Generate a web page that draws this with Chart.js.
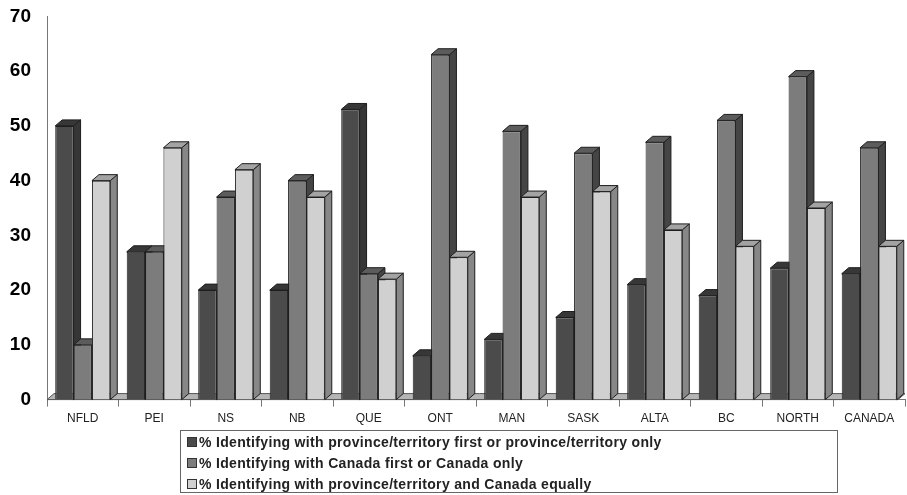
<!DOCTYPE html>
<html>
<head>
<meta charset="utf-8">
<script src="https://cdn.jsdelivr.net/npm/chart.js@4.4.1/dist/chart.umd.min.js"></script>
<style>
  body { margin: 0; background: #fff; font-family: 'Liberation Sans', Arial, sans-serif; }
  #wrap { position: relative; width: 907px; height: 495px; overflow: hidden; }
  #chartBox { position: absolute; left: 0; top: -3px; width: 907px; height: 434px; }
  #legend {
    position: absolute; left: 180px; top: 430px; width: 658px; height: 63px;
    border: 1px solid #666; padding: 1px 0 0 6px; box-sizing: border-box;
    font-weight: bold; font-size: 14px; letter-spacing: 0.33px; color: #222;
  }
  #legend div { height: 21px; line-height: 21px; white-space: nowrap; }
  #legend span.box {
    display: inline-block; width: 8px; height: 8px; border: 1px solid #333;
    margin-right: 2px; vertical-align: 0px;
  }
</style>
</head>
<body>
<div id="wrap">
  <div id="chartBox"><canvas id="chart"></canvas></div>
  <div id="legend"></div>
</div>
<script>
const categories = ['NFLD', 'PEI', 'NS', 'NB', 'QUE', 'ONT', 'MAN', 'SASK', 'ALTA', 'BC', 'NORTH', 'CANADA']
const provinceFirst = [50, 27, 20, 20, 53, 8, 11, 15, 21, 19, 24, 23]
const canadaFirst = [10, 27, 37, 40, 23, 63, 49, 45, 47, 51, 59, 46]
const equally = [40, 46, 42, 37, 22, 26, 37, 38, 31, 28, 35, 28]
const seriesLabels = [
  '% Identifying with province/territory first or province/territory only',
  '% Identifying with Canada first or Canada only',
  '% Identifying with province/territory and Canada equally',
]

// front, top, side colours per series
const faceColors = [
  { front: '#4b4b4b', top: '#373737', side: '#363636' },
  { front: '#7c7c7c', top: '#5c5c5c', side: '#454545' },
  { front: '#d0d0d0', top: '#a3a3a3', side: '#878787' },
]
const DX = 7
const DY = 6

// floor + depth faces (top and right side), painted before the bar fronts
const bars3d = {
  id: 'bars3d',
  beforeDatasetsDraw(chart) {
    const { ctx, chartArea } = chart
    const y0 = chart.scales.y.getPixelForValue(0)
    ctx.save()
    ctx.lineWidth = 1
    ctx.beginPath()
    ctx.moveTo(chartArea.left, y0)
    ctx.lineTo(chartArea.left + DX, y0 - DY)
    ctx.lineTo(chartArea.right, y0 - DY)
    ctx.lineTo(chartArea.right - DX, y0)
    ctx.closePath()
    ctx.fillStyle = '#b5b5b5'
    ctx.fill()
    ctx.strokeStyle = '#555'
    ctx.stroke()

    ctx.strokeStyle = '#1e1e1e'
    const metas = chart.data.datasets.map((_, i) => chart.getDatasetMeta(i))
    categories.forEach((_, j) => {
      metas.forEach((meta, i) => {
        const bar = meta.data[j]
        if (!bar) return
        const c = faceColors[i]
        const p = bar.getProps(['x', 'y', 'base', 'width'], true)
        const l = p.x - p.width / 2
        const r = p.x + p.width / 2
        ctx.beginPath()
        ctx.moveTo(r, p.y)
        ctx.lineTo(r + DX, p.y - DY)
        ctx.lineTo(r + DX, p.base - DY)
        ctx.lineTo(r, p.base)
        ctx.closePath()
        ctx.fillStyle = c.side
        ctx.fill()
        ctx.stroke()
        ctx.beginPath()
        ctx.moveTo(l, p.y)
        ctx.lineTo(l + DX, p.y - DY)
        ctx.lineTo(r + DX, p.y - DY)
        ctx.lineTo(r, p.y)
        ctx.closePath()
        ctx.fillStyle = c.top
        ctx.fill()
        ctx.stroke()
      })
    })
    ctx.restore()
  },
}

const seriesData = [provinceFirst, canadaFirst, equally]

const chart = new Chart(document.getElementById('chart'), {
  type: 'bar',
  data: {
    labels: categories,
    datasets: seriesData.map((values, i) => ({
      label: seriesLabels[i],
      data: values,
      backgroundColor: faceColors[i].front,
      borderColor: '#1e1e1e',
      borderWidth: 1,
      categoryPercentage: 0.77,
      barPercentage: 1,
    })),
  },
  options: {
    responsive: true,
    maintainAspectRatio: false,
    animation: false,
    layout: { padding: { top: 14, right: 2, left: 4, bottom: 0 } },
    plugins: {
      legend: { display: false },
      tooltip: { enabled: false },
    },
    scales: {
      x: {
        grid: {
          display: true,
          drawOnChartArea: false,
          offset: true,
          tickLength: 7,
          color: '#777',
        },
        border: { display: true, color: '#777' },
        ticks: {
          color: '#222',
          font: { family: "'Liberation Sans', Arial", size: 12 },
          padding: 5,
        },
      },
      y: {
        min: 0,
        max: 70,
        afterFit: (scale) => {
          scale.width = 43
        },
        ticks: {
          stepSize: 10,
          color: '#000',
          font: { family: "'Liberation Sans', Arial", size: 19, weight: 'bold' },
          padding: 8,
        },
        grid: { display: false },
        border: { display: true, color: '#777' },
      },
    },
  },
  plugins: [bars3d],
})

// legend from the datasets
const legendEl = document.getElementById('legend')
chart.data.datasets.forEach((ds, i) => {
  const row = document.createElement('div')
  row.innerHTML = `<span class="box" style="background:${faceColors[i].front}"></span>${ds.label}`
  legendEl.appendChild(row)
})
</script>
</body>
</html>
